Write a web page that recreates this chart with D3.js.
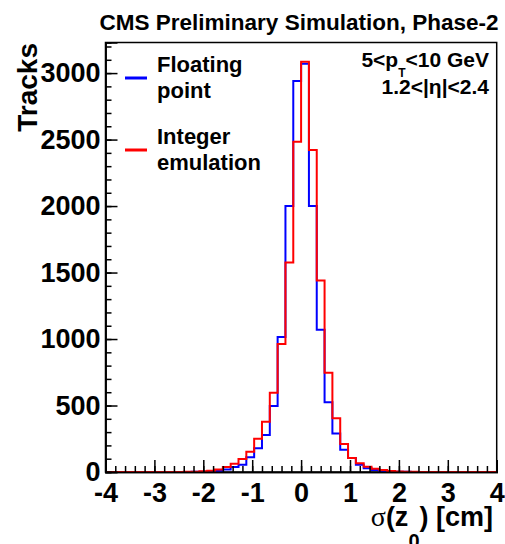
<!DOCTYPE html>
<html>
<head>
<meta charset="utf-8">
<script src="https://cdnjs.cloudflare.com/ajax/libs/d3/7.8.5/d3.min.js"></script>
<style>
  body { margin: 0; background: #fff; }
  text { font-family: "Liberation Sans", Arial, Helvetica, sans-serif; font-weight: bold; }
</style>
</head>
<body>
<div id="chart"></div>
<script>
// histogram: 50 bins of 0.16 cm between -4 and 4
let xMin = -4, xMax = 4, nBins = 50;

// floating point (blue)
let floatingCounts = [
  0, 0, 0, 0, 0, 0, 0, 0, 0, 0,
  0, 1, 2, 4, 8, 18, 38, 55, 110, 178,
  278, 496, 1015, 2000, 2940, 3070, 2000, 1070, 525, 290,
  168, 105, 55, 28, 15, 8, 4, 2, 1, 0,
  0, 0, 0, 0, 0, 0, 0, 0, 0, 0
];

// integer emulation (red)
let integerCounts = [
  0, 0, 0, 0, 0, 0, 0, 0, 0, 0,
  1, 2, 5, 10, 18, 38, 62, 97, 153, 250,
  378, 596, 962, 1575, 2483, 3085, 2421, 1440, 747, 404,
  210, 105, 65, 40, 25, 15, 8, 4, 2, 1,
  0, 0, 0, 0, 0, 0, 0, 0, 0, 0
];

let xTicks = [-4, -3, -2, -1, 0, 1, 2, 3, 4];
let yTicks = [0, 500, 1000, 1500, 2000, 2500, 3000];
let yMax = 3230;

let svg = d3.select('#chart')
  .append('svg')
    .attr('width', 505)
    .attr('height', 544)
;

let frameL = 105.5, frameR = 496.7, frameT = 42.5, frameB = 472;

let x = d3.scaleLinear().domain([xMin, xMax]).range([frameL, frameR]);
let y = d3.scaleLinear().domain([0, yMax]).range([frameB, frameT]);

// frame
svg.append('rect')
    .attr('x', frameL)
    .attr('y', frameT)
    .attr('width', frameR - frameL)
    .attr('height', frameB - frameT)
    .attr('fill', 'none')
    .attr('stroke', '#000')
    .attr('stroke-width', 1.5)
;

// histograms
function stepPoints(counts) {
  let w = (xMax - xMin) / nBins;
  let pts = [[xMin, 0]];
  counts.forEach(function(c, i) {
    pts.push([xMin + i * w, c]);
  });
  pts.push([xMax, counts[counts.length - 1]]);
  pts.push([xMax, 0]);
  return pts;
}

let line = d3.line()
  .x(function(d) { return x(d[0]); })
  .y(function(d) { return y(d[1]); })
  .curve(d3.curveStepAfter)
;

svg.append('path')
    .attr('d', line(stepPoints(floatingCounts)))
    .attr('fill', 'none')
    .attr('stroke', '#0000ff')
    .attr('stroke-width', 2)
;

svg.append('path')
    .attr('d', line(stepPoints(integerCounts)))
    .attr('fill', 'none')
    .attr('stroke', '#ff0000')
    .attr('stroke-width', 2)
;

// x axis, minor then major
svg.append('g')
    .attr('transform', 'translate(0,' + frameB + ')')
    .call(d3.axisBottom(x).tickValues(d3.range(-4, 4.01, 0.2)).tickSize(-6).tickFormat(''))
;
let xAxis = svg.append('g')
    .attr('transform', 'translate(0,' + frameB + ')')
    .call(d3.axisBottom(x).tickValues(xTicks).tickSize(-12).tickPadding(11).tickFormat(d3.format('d')))
;
xAxis.selectAll('text').attr('font-size', 27).attr('fill', '#000').text(function(d) { return String(d); });

// y axis
svg.append('g')
    .attr('transform', 'translate(' + frameL + ',0)')
    .call(d3.axisLeft(y).tickValues(d3.range(0, 3201, 100)).tickSize(-6).tickFormat(''))
;
let yAxis = svg.append('g')
    .attr('transform', 'translate(' + frameL + ',0)')
    .call(d3.axisLeft(y).tickValues(yTicks).tickSize(-12).tickPadding(5).tickFormat(d3.format('d')))
;
yAxis.selectAll('text').attr('font-size', 27).attr('fill', '#000');

svg.selectAll('.domain').attr('stroke-width', 1.5);
svg.selectAll('.tick line').attr('stroke-width', 1.5);

// title
svg.append('text')
    .attr('x', 299)
    .attr('y', 30)
    .attr('text-anchor', 'middle')
    .attr('font-size', 22.5)
    .text('CMS Preliminary Simulation, Phase-2')
;

// y title
svg.append('text')
    .attr('transform', 'translate(37,43) rotate(-90)')
    .attr('text-anchor', 'end')
    .attr('font-size', 28)
    .text('Tracks')
;

// x title
let xt = svg.append('text')
    .attr('x', 493)
    .attr('y', 526)
    .attr('text-anchor', 'end')
    .attr('font-size', 27)
;
xt.append('tspan').attr('font-family', '"Liberation Serif", serif').attr('font-weight', 'normal').attr('font-size', 28).text('σ');
xt.append('tspan').text('(z');
xt.append('tspan').attr('font-size', 20).attr('dy', 22).text('0');
xt.append('tspan').attr('dy', -22).text(') [cm]');

// legend
let legendItems = [
  { lines: ['Floating', 'point'], color: '#0000ff', y: 78 },
  { lines: ['Integer', 'emulation'], color: '#ff0000', y: 150 }
];
let leg = svg.selectAll('.legend').data(legendItems).enter()
  .append('g')
    .attr('class', 'legend')
;
leg.append('line')
    .attr('x1', 125).attr('x2', 147)
    .attr('y1', function(d) { return d.y; })
    .attr('y2', function(d) { return d.y; })
    .attr('stroke', function(d) { return d.color; })
    .attr('stroke-width', 3)
;
leg.append('text')
    .attr('x', 157)
    .attr('y', function(d) { return d.y - 6; })
    .attr('font-size', 22)
    .text(function(d) { return d.lines[0]; })
;
leg.append('text')
    .attr('x', 157)
    .attr('y', function(d) { return d.y + 20; })
    .attr('font-size', 22)
    .text(function(d) { return d.lines[1]; })
;

// cut labels
let c1 = svg.append('text')
    .attr('x', 489)
    .attr('y', 67)
    .attr('text-anchor', 'end')
    .attr('font-size', 21)
;
c1.append('tspan').text('5<p');
c1.append('tspan').attr('font-size', 12).attr('dy', 10).text('T');
c1.append('tspan').attr('dy', -10).text('<10 GeV');

svg.append('text')
    .attr('x', 489)
    .attr('y', 94)
    .attr('text-anchor', 'end')
    .attr('font-size', 21)
    .text('1.2<|η|<2.4')
;
</script>
</body>
</html>
